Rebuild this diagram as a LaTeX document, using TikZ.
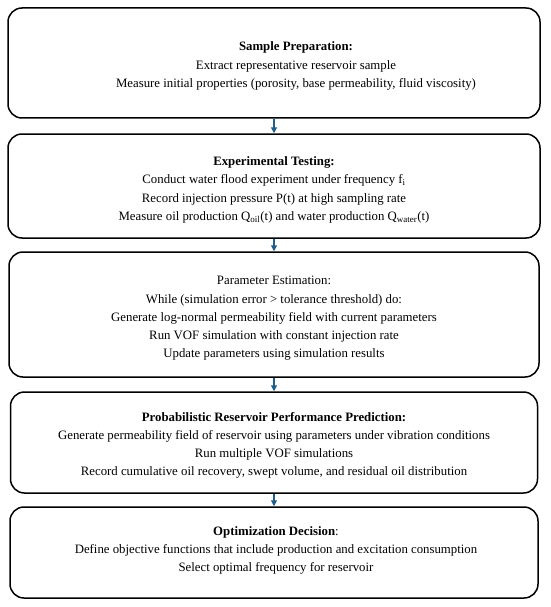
\documentclass[tikz,border=0pt]{standalone}
\usepackage{fontspec}
\setmainfont{Liberation Serif}
\usetikzlibrary{arrows.meta, positioning}
\definecolor{flowblue}{HTML}{1F5F8A}
\tikzset{
  >={Triangle[length=6pt, width=6pt]},
  stage/.style={draw=black, line width=1.5pt, rounded corners=14pt, minimum width=532pt,
                inner sep=0pt},
  stagetext/.style={align=center, inner sep=0pt, font=\fontsize{12.8}{18.2}\selectfont},
  flow/.style={->, draw=flowblue, line width=1.2pt},
}

\begin{document}
\begin{tikzpicture}[x=1pt, y=-1pt]
  \useasboundingbox (0,0) rectangle (550,607);
  % stages
  \node[stage, minimum height=110pt] (prep) at (274,63) {};
  \node[stage, minimum height=104pt] (test) at (274,186) {};
  \node[stage, minimum height=125pt, minimum width=530pt] (est) at (274,314.5) {};
  \node[stage, minimum height=101pt, minimum width=527pt] (pred) at (274,442.5) {};
  \node[stage, minimum height=91pt, minimum width=528pt] (opt) at (274,552.5) {};
  % texts
  \node[stagetext] (preptext) at ([shift={(22,3)}]prep.center)
    {\textbf{Sample Preparation:}\\
     Extract representative reservoir sample\\
     Measure initial properties (porosity, base permeability, fluid viscosity)};
  \node[stagetext] (testtext) at ([shift={(0,4)}]test.center)
    {\textbf{Experimental Testing:}\\
     Conduct water flood experiment under frequency f\textsubscript{i}\\
     Record injection pressure P(t) at high sampling rate\\
     Measure oil production Q\textsubscript{oil}(t) and water production Q\textsubscript{water}(t)};
  \node[stagetext] (esttext) at ([shift={(0,4)}]est.center)
    {Parameter Estimation:\\
     While (simulation error > tolerance threshold) do:\\
     Generate log-normal permeability field with current parameters\\
     Run VOF simulation with constant injection rate\\
     Update parameters using simulation results};
  \node[stagetext] (predtext) at ([shift={(0,3)}]pred.center)
    {\textbf{Probabilistic Reservoir Performance Prediction:}\\
     Generate permeability field of reservoir using parameters under vibration conditions\\
     Run multiple VOF simulations\\
     Record cumulative oil recovery, swept volume, and residual oil distribution};
  \node[stagetext] (opttext) at ([shift={(2,-2)}]opt.center)
    {\textbf{Optimization Decision}:\\
     Define objective functions that include production and excitation consumption\\
     Select optimal frequency for reservoir};
  % flow
  \draw[flow] (prep) -- (test);
  \draw[flow] (test) -- (est);
  \draw[flow] (est) -- (pred);
  \draw[flow] (pred) -- (opt);
\end{tikzpicture}
\end{document}
